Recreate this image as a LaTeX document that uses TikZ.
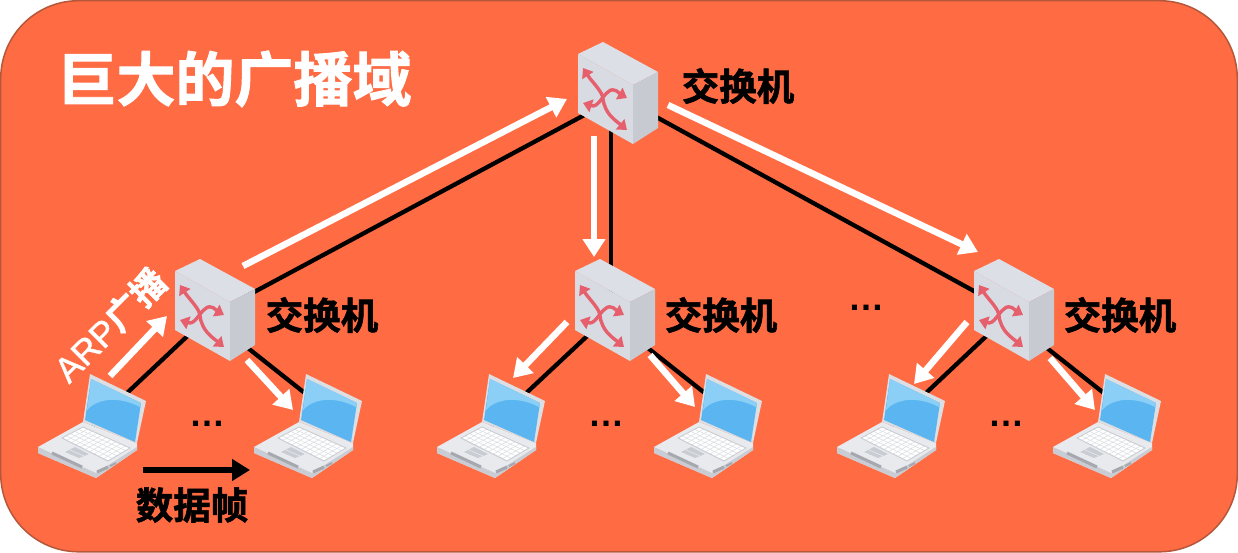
\documentclass[tikz,border=0pt]{standalone}
\usepackage{fontspec}
\setmainfont{Liberation Sans}
\newfontfamily\cjk{Noto Sans CJK SC}[BoldFont={Noto Sans CJK SC Bold},BoldFeatures={FakeBold=1.6}]
\newfontfamily\arpfont{Liberation Sans}[FakeBold=1.2]
\usetikzlibrary{arrows.meta}
\definecolor{bgor}{HTML}{FF6B43}
\definecolor{bgedge}{HTML}{B5573A}
\definecolor{swtop}{HTML}{DDDFE6}
\definecolor{swfront}{HTML}{D9DBE3}
\definecolor{swside}{HTML}{C8CAD2}
\definecolor{swpink}{HTML}{E5606C}
\definecolor{lpblue}{HTML}{5AB5F1}
\definecolor{lplight}{HTML}{8CCFF6}
\definecolor{lpbody}{HTML}{E8EAEE}
\definecolor{lpedge}{HTML}{C9CCD2}
\definecolor{lpdark}{HTML}{A5A8AE}
\tikzset{
  x=1pt,y=-1pt,
  hub/.style={coordinate},
  linkline/.style={black,line width=4.3pt},
  whitearrow/.style={white,line width=6.5pt,-{Triangle[length=18pt,width=22pt]}},
  blackarrow/.style={black,line width=6pt,-{Triangle[length=18pt,width=21pt]}},
  pinkarrow/.style={swpink,line width=3.4pt,{Triangle[length=9pt,width=13pt]}-{Triangle[length=9pt,width=13pt]}},
  swlabel/.style={font=\cjk\bfseries\fontsize{37.5}{37.5}\selectfont,black,inner sep=0pt},
  dots/.style={font=\bfseries\fontsize{36}{36}\selectfont,black,inner sep=0pt},
  switchpic/.pic={
    \begin{scope}[shift={(-40,-51)}]
      \fill[swtop] (25,0) -- (0,12) -- (55,43) -- (80,30) -- cycle;
      \fill[swfront] (0,12) -- (55,43) -- (55,102) -- (0,71) -- cycle;
      \fill[swside] (55,43) -- (80,30) -- (80,86) -- (55,102) -- cycle;
      \draw[pinkarrow] (5,26) .. controls (14,40) and (25,50) .. (25,57) .. controls (27,72) and (37,78) .. (49,88);
      \draw[pinkarrow] (5,61) .. controls (20,66) and (24,54) .. (30,50) .. controls (36,44) and (42,52) .. (49,56);
    \end{scope}
  },
  laptoppic/.pic={
    \begin{scope}[shift={(-54,-52)}]
      \fill[lpbody] (0,73) -- (45,48) -- (99,69) -- (99,76) -- (58,104) -- (0,79) -- cycle;
      \fill[lpedge] (0,73) -- (58,99) -- (99,73) -- (99,76) -- (58,104) -- (0,79) -- cycle;
      \fill[lpbody!95!black] (52,0) -- (108,27) -- (99,69) -- (45,48) -- cycle;
      \fill[lpblue] (53,5) -- (103,29) -- (97,68) -- (47,46) -- cycle;
      \fill[lplight] (53,5) -- (103,29) -- (102,33) .. controls (85,24) and (62,22) .. (49,36) -- cycle;
      \fill[white] (24,64) -- (45,53) -- (92,74) -- (70,87) -- cycle;
      \foreach \t in {.2,.4,.6,.8}
        \draw[lpedge!70,line width=.5pt] (24+21*\t,64-11*\t) -- (70+22*\t,87-13*\t);
      \foreach \t in {.1,.2,.3,.4,.5,.6,.7,.8,.9}
        \draw[lpedge!70,line width=.5pt] (24+46*\t,64+23*\t) -- (45+47*\t,53+21*\t);
      \draw[lpedge,line width=.9pt] (24,64) -- (45,53) -- (92,74) -- (70,87) -- cycle;
      \fill[lpedge] (27,78) -- (37,73) -- (51,80) -- (41,84) -- cycle;
      \draw[lpbody,line width=.6pt] (32,76) -- (46,82);
      \draw[lpdark,line width=3pt] (14,79) -- (44,93);
      \draw[lpdark,line width=3pt] (59,98) -- (70,93);
      \draw[lpdark,line width=2pt] (72,92) -- (78,89);
    \end{scope}
  }
}
\begin{document}
\begin{tikzpicture}
\useasboundingbox (0,0) rectangle (1238,553);
\fill[white] (0,0) rectangle (1238,553);
\draw[fill=bgor,draw=bgedge,line width=1.5pt,rounded corners=78pt] (0.7,0.7) rectangle (1237.3,551.8);

\node[hub] (top) at (618,93) {};
\node[hub] (s1) at (215,310) {};
\node[hub] (s2) at (615,310) {};
\node[hub] (s3) at (1014,310) {};
\node[hub] (l1) at (92,426) {};
\node[hub] (l2) at (308,426) {};
\node[hub] (l3) at (491,426) {};
\node[hub] (l4) at (708,426) {};
\node[hub] (l5) at (891,426) {};
\node[hub] (l6) at (1107,426) {};

\draw[linkline] ([yshift=-4pt]top) -- ([yshift=-3pt]s1);
\draw[linkline] ([xshift=-7pt]top) -- ([xshift=-4pt]s2);
\draw[linkline] ([yshift=-3pt]top) -- ([yshift=-3pt]s3);
\draw[linkline] (s1) -- (l1);
\draw[linkline] ([yshift=-12pt]s1) -- ([shift={(22,-13)}]l2);
\draw[linkline] (s2) -- (l3);
\draw[linkline] ([yshift=-12pt]s2) -- ([shift={(22,-13)}]l4);
\draw[linkline] (s3) -- (l5);
\draw[linkline] ([yshift=-12pt]s3) -- ([shift={(22,-13)}]l6);

\foreach \n in {top,s1,s2,s3} \pic at (\n) {switchpic};
\foreach \n in {l1,l2,l3,l4,l5,l6} \pic at (\n) {laptoppic};

\draw[whitearrow] ([shift={(28,-44)}]s1) -- ([shift={(-51,6)}]top);
\draw[whitearrow] ([shift={(-24,43)}]top) -- ([shift={(-21,-53)}]s2);
\draw[whitearrow] ([shift={(50,12)}]top) -- ([shift={(-36,-58)}]s3);
\draw[whitearrow] ([shift={(18,-50)}]l1) -- ([shift={(-48,6)}]s1);
\draw[whitearrow] ([shift={(32,50)}]s1) -- ([shift={(-15,-16)}]l2);
\draw[whitearrow] ([shift={(-48,12)}]s2) -- ([shift={(22,-48)}]l3);
\draw[whitearrow] ([shift={(35,45)}]s2) -- ([shift={(-13,-19)}]l4);
\draw[whitearrow] ([shift={(-47,12)}]s3) -- ([shift={(23,-42)}]l5);
\draw[whitearrow] ([shift={(36,48)}]s3) -- ([shift={(-12,-16)}]l6);

\node[hub] (da) at (143,470) {};
\node[hub] (db) at (250,470) {};
\draw[blackarrow] (da) -- (db);

\node[font=\cjk\bfseries\fontsize{59}{59}\selectfont,white,inner sep=0pt] (title) at (234.5,79) {巨大的广播域};
\node[swlabel] (t0) at (738,86) {交换机};
\node[swlabel] (t1) at (322,315) {交换机};
\node[swlabel] (t2) at (721,315) {交换机};
\node[swlabel] (t3) at (1120,315) {交换机};
\node[swlabel] (t4) at (192,505) {数据帧};
\node[font=\cjk\fontsize{35}{35}\selectfont,white,inner sep=0pt,rotate=45] (arp) at (110,325) {{\arpfont ARP}{\bfseries 广播}};
\node[dots] (d1) at (207,424) {…};
\node[dots] (d2) at (606,424) {…};
\node[dots] (d3) at (1006,424) {…};
\node[dots] (d4) at (866,308) {…};
\end{tikzpicture}
\end{document}
